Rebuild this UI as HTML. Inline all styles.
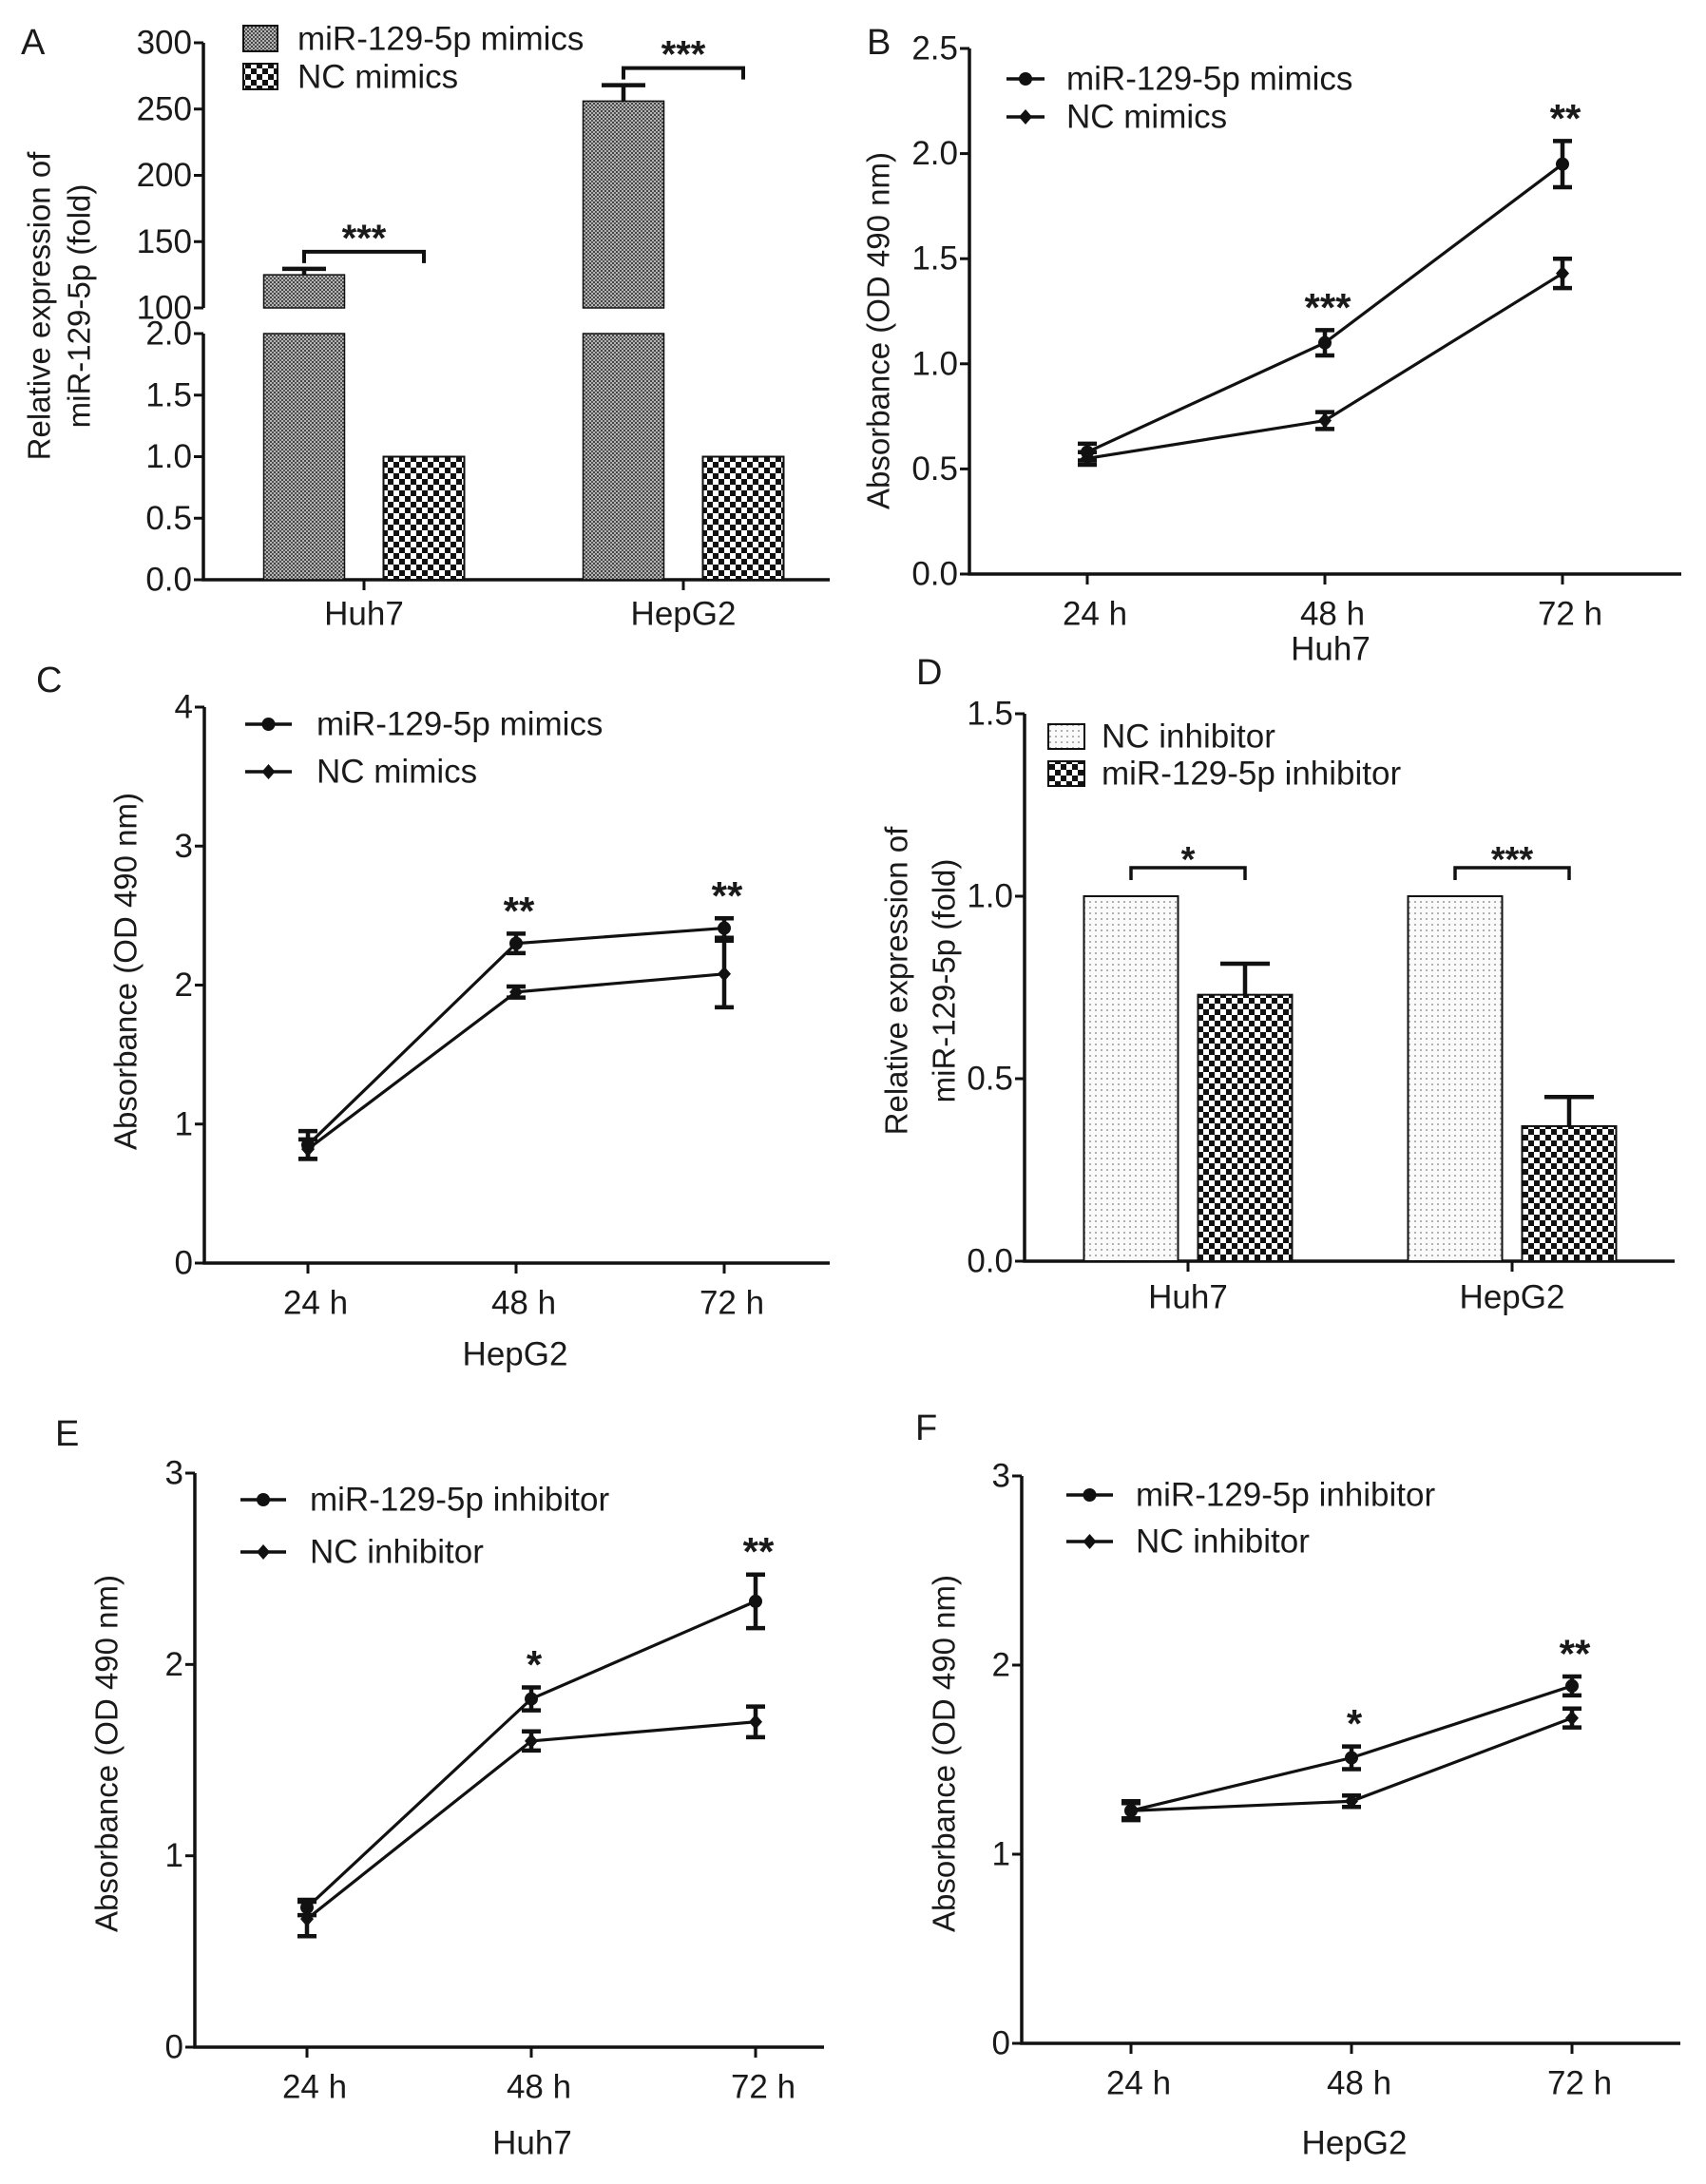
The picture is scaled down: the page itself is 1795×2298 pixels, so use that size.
<!DOCTYPE html>
<html><head><meta charset="utf-8">
<style>
html,body{margin:0;padding:0;background:#fff;}
svg{display:block;}
text{font-family:"Liberation Sans",Arial,sans-serif;fill:#1a1a1a;}
</style></head>
<body>
<svg id="fig" width="1795" height="2298" viewBox="0 0 1795 2298" xmlns="http://www.w3.org/2000/svg">
<defs>
<pattern id="pGrey" width="4" height="4" patternUnits="userSpaceOnUse"><rect width="4" height="4" fill="#b4b4b4"/><rect width="2" height="2" fill="#444"/><rect x="2" y="2" width="2" height="2" fill="#555"/></pattern>
<pattern id="pCheck" width="12" height="12" patternUnits="userSpaceOnUse"><rect width="12" height="12" fill="#fff"/><rect width="6" height="6" fill="#111"/><rect x="6" y="6" width="6" height="6" fill="#111"/></pattern>
<pattern id="pDot" width="6" height="6" patternUnits="userSpaceOnUse"><rect width="6" height="6" fill="#fafafa"/><rect width="2" height="2" fill="#b0b0b0"/></pattern>
</defs>
</svg>
<script>
// ---------- data ----------
const aGroups = ['Huh7','HepG2'];
const aMimics = [125, 256];
const aMimicsErr = [4.5, 12];
const aNC = [1.0, 1.0];
const aTicksLow = [0, 0.5, 1.0, 1.5, 2.0];
const aTickLabelsLow = ['0.0','0.5','1.0','1.5','2.0'];
const aTicksHigh = [100, 150, 200, 250, 300];
const aTickLabelsHigh = ['100','150','200','250','300'];
const aStars = ['***','***'];

const bCats = ['24 h','48 h','72 h'];
const bMimic = [0.58, 1.10, 1.95];
const bMimicErr = [0.04, 0.06, 0.11];
const bNC = [0.55, 0.73, 1.43];
const bNCErr = [0.03, 0.04, 0.07];
const bStars = ['', '***', '**'];
const bTicks = [0, 0.5, 1.0, 1.5, 2.0, 2.5];
const bTickLabels = ['0.0','0.5','1.0','1.5','2.0','2.5'];

const cCats = ['24 h','48 h','72 h'];
const cMimic = [0.85, 2.30, 2.41];
const cMimicErr = [0.10, 0.07, 0.07];
const cNC = [0.82, 1.95, 2.08];
const cNCErr = [0.07, 0.04, 0.24];
const cStars = ['', '**', '**'];
const cTicks = [0, 1, 2, 3, 4];
const cTickLabels = ['0','1','2','3','4'];

const dGroups = ['Huh7','HepG2'];
const dNCInh = [1.0, 1.0];
const dInh = [0.73, 0.37];
const dInhErr = [0.085, 0.08];
const dStars = ['*','***'];
const dTicks = [0, 0.5, 1.0, 1.5];
const dTickLabels = ['0.0','0.5','1.0','1.5'];

const eCats = ['24 h','48 h','72 h'];
const eInh = [0.73, 1.82, 2.33];
const eInhErr = [0.04, 0.06, 0.14];
const eNC = [0.67, 1.60, 1.70];
const eNCErr = [0.09, 0.05, 0.08];
const eStars = ['', '*', '**'];
const eTicks = [0, 1, 2, 3];
const eTickLabels = ['0','1','2','3'];

const fCats = ['24 h','48 h','72 h'];
const fInh = [1.23, 1.51, 1.89];
const fInhErr = [0.05, 0.06, 0.05];
const fNC = [1.23, 1.28, 1.72];
const fNCErr = [0.04, 0.03, 0.05];
const fStars = ['', '*', '**'];
const fTicks = [0, 1, 2, 3];
const fTickLabels = ['0','1','2','3'];

// ---------- helpers ----------
const NS = 'http://www.w3.org/2000/svg';
const svg = document.getElementById('fig');
const FS = 35;
function mk(tag, attrs, parent){
  const e = document.createElementNS(NS, tag);
  for (const k in attrs) e.setAttribute(k, attrs[k]);
  (parent || svg).appendChild(e);
  return e;
}
function txt(x, y, s, size, anchor, parent, extra){
  const t = mk('text', Object.assign({x:x, y:y, 'font-size':size, 'text-anchor':anchor||'middle', 'dominant-baseline':'central'}, extra||{}), parent);
  t.textContent = s;
  return t;
}
const K = '#111';

function panelLabel(s, x, y){
  const t = txt(x, y, s, 38, 'start');
  
  
}

function yTitle(lines, xs, cy, g){
  lines.forEach((l, i) => {
    const t = txt(xs[i], cy, l, 33, 'middle', g, {transform:'rotate(-90 ' + xs[i] + ' ' + cy + ')'});
    
    
  });
}

function marker(type, x, y, g){
  let m;
  if (type === 'circle') m = mk('circle', {cx:x, cy:y, r:7, fill:K}, g);
  else m = mk('path', {d:'M'+x+' '+(y-8)+' L'+(x+7)+' '+y+' L'+x+' '+(y+8)+' L'+(x-7)+' '+y+' Z', fill:K}, g);
  return m;
}

function errBar(x, y1, y2, cap, g){
  const e = mk('path', {d:'M'+x+' '+y1+' V'+y2+' M'+(x-cap/2)+' '+y1+' H'+(x+cap/2)+' M'+(x-cap/2)+' '+y2+' H'+(x+cap/2), stroke:K, 'stroke-width':4.5, fill:'none'}, g);
  return e;
}

// ---------- line panel ----------
function linePanel(cfg, cats, s1, s1e, s2, s2e, stars, ticks, tickLabels, names){
  const g = mk('g', {});
  
  
  const y = v => cfg.yb - v / cfg.ymax * (cfg.yb - cfg.yt);
  const x = i => cfg.cx0 + i * cfg.step;
  const ax = mk('path', {d:'M'+cfg.x0+' '+cfg.yt+' V'+cfg.yb+' H'+cfg.xe, stroke:K, 'stroke-width':3.5, fill:'none'}, g);
  
  
  ticks.forEach((v, i) => {
    const tk = mk('line', {x1:cfg.x0-10, x2:cfg.x0, y1:y(v), y2:y(v), stroke:K, 'stroke-width':3}, g);
    
    
    const tl = txt(cfg.x0-12, y(v), tickLabels[i], FS, 'end', g);
    
    
  });
  cats.forEach((c, i) => {
    const tk = mk('line', {x1:x(i), x2:x(i), y1:cfg.yb, y2:cfg.yb+11, stroke:K, 'stroke-width':3}, g);
    
    
    const tl = txt(x(i)+8, cfg.yb+42, c, FS, 'middle', g);
    
    
  });
  const xt = txt(cfg.xtx, cfg.xty, cfg.xtitle, FS, 'middle', g);
  
  
  yTitle(['Absorbance (OD 490 nm)'], [cfg.ytx], cfg.yty, g);
  [[s1, s1e, 'circle', names[0]], [s2, s2e, 'diamond', names[1]]].forEach(([s, se, mt, nm], si) => {
    const pl = mk('polyline', {points: s.map((v, i) => x(i) + ',' + y(v)).join(' '), stroke:K, 'stroke-width':3.2, fill:'none'}, g);
    
    
    s.forEach((v, i) => {
      const eb = errBar(x(i), y(v + se[i]), y(v - se[i]), 20, g);
      
      
      const m = marker(mt, x(i), y(v), g);
      
      
    });
  });
  stars.forEach((st, i) => {
    if (!st) return;
    const top = Math.max(s1[i] + s1e[i], s2[i] + s2e[i]);
    const t = txt(x(i) + 3, y(top) - 24, st, 42, 'middle', g, {'font-weight':'bold'});
    
    
  });
  // legend
  [[names[0], 'circle', cfg.ly1], [names[1], 'diamond', cfg.ly2]].forEach(([nm, mt, ly]) => {
    const le = mk('g', {}, g);
    
    
    mk('line', {x1:cfg.lx1, x2:cfg.lx2, y1:ly, y2:ly, stroke:K, 'stroke-width':3.5}, le);
    marker(mt, (cfg.lx1 + cfg.lx2) / 2, ly, le);
    txt(cfg.ltx, ly, nm, FS, 'start', le);
  });
}

// ---------- Panel A ----------
(function(){
  const g = mk('g', {});
  
  
  const x0 = 214, xe = 873, yb = 610, yLowTop = 351, yHighBot = 324, yt = 45;
  const yLow = v => yb - v / 2 * (yb - yLowTop);
  const yHigh = v => yHighBot - (v - 100) / 200 * (yHighBot - yt);
  const yA = v => v <= 2 ? yLow(v) : (v >= 100 ? yHigh(v) : yLowTop);
  const gx = i => 383 + i * 336;
  const bw = 85;
  const ax = mk('path', {d:'M'+x0+' '+yt+' V'+yHighBot+' M'+x0+' '+yLowTop+' V'+yb+' H'+xe, stroke:K, 'stroke-width':3.5, fill:'none'}, g);
  
  
  aTicksLow.forEach((v, i) => {
    const tk = mk('line', {x1:x0-10, x2:x0, y1:yLow(v), y2:yLow(v), stroke:K, 'stroke-width':3}, g);
    
    
    const tl = txt(x0-12, yLow(v), aTickLabelsLow[i], FS, 'end', g);
    
    
  });
  aTicksHigh.forEach((v, i) => {
    const tk = mk('line', {x1:x0-10, x2:x0, y1:yHigh(v), y2:yHigh(v), stroke:K, 'stroke-width':3}, g);
    
    
    const tl = txt(x0-12, yHigh(v), aTickLabelsHigh[i], FS, 'end', g);
    
    
  });
  yTitle(['Relative expression of', 'miR-129-5p (fold)'], [41, 83], 322, g);
  aGroups.forEach((grp, i) => {
    const tk = mk('line', {x1:gx(i), x2:gx(i), y1:yb, y2:yb+11, stroke:K, 'stroke-width':3}, g);
    
    
    const tl = txt(gx(i), yb+36, grp, FS, 'middle', g);
    
    
    const bx = gx(i) - 63 - bw/2;
    const v = aMimics[i];
    const lowTop = yLow(Math.min(v, 2));
    const b1 = mk('rect', {x:bx, y:lowTop, width:bw, height:yb-lowTop, fill:'url(#pGrey)', stroke:K, 'stroke-width':1.5}, g);
    
    
    if (v > 100) {
      const b2 = mk('rect', {x:bx, y:yA(v), width:bw, height:yHighBot-yA(v), fill:'url(#pGrey)', stroke:K, 'stroke-width':1.5}, g);
      
      
      const eb = mk('path', {d:'M'+(bx+bw/2)+' '+yA(v)+' V'+yA(v+aMimicsErr[i])+' M'+(bx+bw/2-23)+' '+yA(v+aMimicsErr[i])+' H'+(bx+bw/2+23), stroke:K, 'stroke-width':4.5, fill:'none'}, g);
      
      
      const gap = mk('rect', {x:bx-3, y:yHighBot+1, width:bw+6, height:yLowTop-yHighBot-2, fill:'#fff'}, g);
      
      
    }
    const nx = gx(i) + 63 - bw/2;
    const b3 = mk('rect', {x:nx, y:yA(aNC[i]), width:bw, height:yb-yA(aNC[i]), fill:'url(#pCheck)', stroke:K, 'stroke-width':2}, g);
    
    
    const by = yA(v + aMimicsErr[i]) - 18;
    const x1 = bx + bw/2, x2 = nx + bw/2;
    const br = mk('path', {d:'M'+x1+' '+(by+12)+' V'+by+' H'+x2+' V'+(by+12), stroke:K, 'stroke-width':4, fill:'none'}, g);
    
    
    const st = txt((x1+x2)/2, by-14, aStars[i], 40, 'middle', g, {'font-weight':'bold'});
    
    
  });
  [['miR-129-5p mimics', 'url(#pGrey)', 27], ['NC mimics', 'url(#pCheck)', 67]].forEach(([nm, f, ly]) => {
    const le = mk('g', {}, g);
    
    
    mk('rect', {x:256, y:ly, width:36, height:27, fill:f, stroke:K, 'stroke-width':2}, le);
    txt(313, ly+14, nm, FS, 'start', le);
  });
})();
panelLabel('A', 22, 45);

// ---------- Panel D ----------
(function(){
  const g = mk('g', {});
  
  
  const x0 = 1078, xe = 1762, yb = 1327, yt = 751, ymax = 1.5;
  const y = v => yb - v / ymax * (yb - yt);
  const gx = i => 1250 + i * 341;
  const bw = 99;
  const ax = mk('path', {d:'M'+x0+' '+yt+' V'+yb+' H'+xe, stroke:K, 'stroke-width':3.5, fill:'none'}, g);
  
  
  dTicks.forEach((v, i) => {
    const tk = mk('line', {x1:x0-10, x2:x0, y1:y(v), y2:y(v), stroke:K, 'stroke-width':3}, g);
    
    
    const tl = txt(x0-12, y(v), dTickLabels[i], FS, 'end', g);
    
    
  });
  yTitle(['Relative expression of', 'miR-129-5p (fold)'], [943, 993], 1032, g);
  dGroups.forEach((grp, i) => {
    const tk = mk('line', {x1:gx(i), x2:gx(i), y1:yb, y2:yb+11, stroke:K, 'stroke-width':3}, g);
    
    
    const tl = txt(gx(i), yb+38, grp, FS, 'middle', g);
    
    
    const ax1 = gx(i) - 60 - bw/2;
    const b1 = mk('rect', {x:ax1, y:y(dNCInh[i]), width:bw, height:yb-y(dNCInh[i]), fill:'url(#pDot)', stroke:K, 'stroke-width':2}, g);
    
    
    const ax2 = gx(i) + 60 - bw/2;
    const b2 = mk('rect', {x:ax2, y:y(dInh[i]), width:bw, height:yb-y(dInh[i]), fill:'url(#pCheck)', stroke:K, 'stroke-width':2}, g);
    
    
    const cx = ax2 + bw/2, e = dInh[i] + dInhErr[i];
    const eb = mk('path', {d:'M'+cx+' '+y(dInh[i])+' V'+y(e)+' M'+(cx-26)+' '+y(e)+' H'+(cx+26), stroke:K, 'stroke-width':4.5, fill:'none'}, g);
    
    
    const by = y(Math.max(dNCInh[i], e)) - 30;
    const x1 = ax1 + bw/2, x2 = ax2 + bw/2;
    const br = mk('path', {d:'M'+x1+' '+(by+13)+' V'+by+' H'+x2+' V'+(by+13), stroke:K, 'stroke-width':3.5, fill:'none'}, g);
    
    
    const st = txt((x1+x2)/2, by-8, dStars[i], 38, 'middle', g, {'font-weight':'bold'});
    
    
  });
  [['NC inhibitor', 'url(#pDot)', 762], ['miR-129-5p inhibitor', 'url(#pCheck)', 801]].forEach(([nm, f, ly]) => {
    const le = mk('g', {}, g);
    
    
    mk('rect', {x:1103, y:ly, width:38, height:26, fill:f, stroke:K, 'stroke-width':2}, le);
    txt(1159, ly+13, nm, FS, 'start', le);
  });
})();
panelLabel('D', 964, 708);

// ---------- Line panels ----------
linePanel({id:'panel-b', x0:1020, xe:1769, yt:51, yb:604, ymax:2.5, cx0:1144, step:250,
  xtitle:'Huh7', xtx:1400, xty:683, ytx:924, yty:348, lx1:1059, lx2:1099, ly1:83, ly2:123, ltx:1122},
  bCats, bMimic, bMimicErr, bNC, bNCErr, bStars, bTicks, bTickLabels, ['miR-129-5p mimics', 'NC mimics']);
panelLabel('B', 912, 45);

linePanel({id:'panel-c', x0:215, xe:873, yt:744, yb:1329, ymax:4, cx0:324, step:219,
  xtitle:'HepG2', xtx:542, xty:1425, ytx:132, yty:1022, lx1:258, lx2:307, ly1:762, ly2:812, ltx:333},
  cCats, cMimic, cMimicErr, cNC, cNCErr, cStars, cTicks, cTickLabels, ['miR-129-5p mimics', 'NC mimics']);
panelLabel('C', 38, 716);

linePanel({id:'panel-e', x0:205, xe:867, yt:1550, yb:2154, ymax:3, cx0:323, step:236,
  xtitle:'Huh7', xtx:560, xty:2255, ytx:112, yty:1845, lx1:253, lx2:301, ly1:1578, ly2:1633, ltx:326},
  eCats, eInh, eInhErr, eNC, eNCErr, eStars, eTicks, eTickLabels, ['miR-129-5p inhibitor', 'NC inhibitor']);
panelLabel('E', 58, 1509);

linePanel({id:'panel-f', x0:1075, xe:1768, yt:1553, yb:2150, ymax:3, cx0:1190, step:232,
  xtitle:'HepG2', xtx:1425, xty:2255, ytx:993, yty:1845, lx1:1122, lx2:1171, ly1:1573, ly2:1622, ltx:1195},
  fCats, fInh, fInhErr, fNC, fNCErr, fStars, fTicks, fTickLabels, ['miR-129-5p inhibitor', 'NC inhibitor']);
panelLabel('F', 963, 1503);
</script>
</body></html>
